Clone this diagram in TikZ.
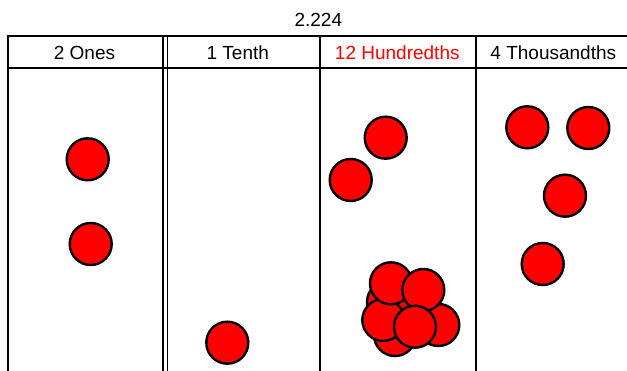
\documentclass[tikz,border=0pt]{standalone}
\usepackage{fontspec}
\setmainfont{Liberation Sans}
\begin{document}
\begin{tikzpicture}[x=1pt,y=-1pt,
  rule/.style={line width=2pt,line cap=rect},
  thinrule/.style={line width=1.3pt},
  dot/.style={circle,draw=black,fill=red,line width=2.4pt,minimum size=42pt,inner sep=0pt},
  hdr/.style={font=\fontsize{19}{22}\selectfont,inner sep=0pt,anchor=base}]
\useasboundingbox (0,0) rectangle (627,371);
% title
\node[hdr] (title) at (318.3,26.5) {2.224};
% table lines
\draw[rule] (7.8,36) -- (630,36);
\draw[rule] (7.8,68.5) -- (630,68.5);
\draw[rule] (7.8,36) -- (7.8,372);
\draw[line width=1.7pt] (163.3,36) -- (163.3,372);
\draw[thinrule] (167.3,36) -- (167.3,372);
\draw[rule] (319.7,36) -- (319.7,372);
\draw[rule] (475.7,36) -- (475.7,372);
% headers
\node[hdr] (h1) at (84.5,59.5) {2 Ones};
\node[hdr] (h2) at (237.8,59.5) {1 Tenth};
\node[hdr,text=red] (h3) at (397.3,59.5) {12 Hundredths};
\node[hdr] (h4) at (553.3,59.5) {4 Thousandths};
% ones
\node[dot] (o1) at (87.7,159.3) {};
\node[dot] (o2) at (90.7,244) {};
% tenth
\node[dot] (t1) at (227.3,342.7) {};
% hundredths
\node[dot] (u1) at (385.7,137.7) {};
\node[dot] (u2) at (350.7,180) {};
\node[dot] (u3) at (405,300) {};
\node[dot] (u4) at (412,312) {};
\node[dot] (u5) at (398,318) {};
\node[dot] (u6) at (388,302) {};
\node[dot] (u7) at (395,335) {};
\node[dot] (u8) at (438.3,325) {};
\node[dot] (u9) at (383.3,320) {};
\node[dot] (u10) at (391,283.3) {};
\node[dot] (u11) at (423.3,290) {};
\node[dot] (u12) at (415,326.7) {};
% thousandths
\node[dot] (k1) at (527.3,127.3) {};
\node[dot] (k2) at (588.3,128) {};
\node[dot] (k3) at (565,195.7) {};
\node[dot] (k4) at (542.7,264) {};
\end{tikzpicture}
\end{document}
